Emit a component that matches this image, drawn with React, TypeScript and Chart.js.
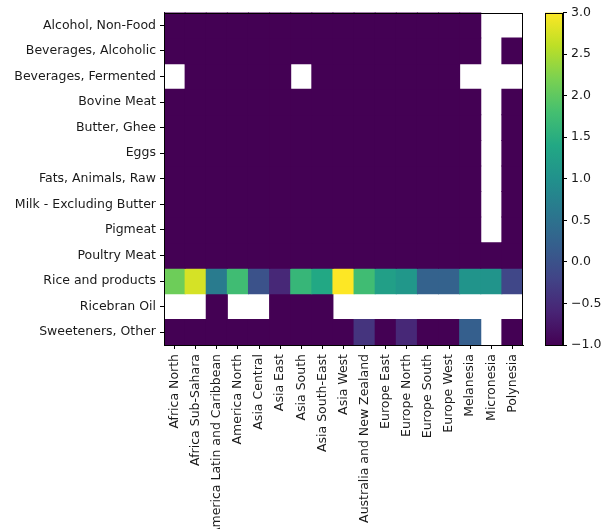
import React, { useEffect, useRef } from "react";
import { Chart, registerables } from "chart.js";
Chart.register(...registerables);

const regions = [
  "Africa North",
  "Africa Sub-Sahara",
  "America Latin and Caribbean",
  "America North",
  "Asia Central",
  "Asia East",
  "Asia South",
  "Asia South-East",
  "Asia West",
  "Australia and New Zealand",
  "Europe East",
  "Europe North",
  "Europe South",
  "Europe West",
  "Melanesia",
  "Micronesia",
  "Polynesia",
];

const products = [
  "Alcohol, Non-Food",
  "Beverages, Alcoholic",
  "Beverages, Fermented",
  "Bovine Meat",
  "Butter, Ghee",
  "Eggs",
  "Fats, Animals, Raw",
  "Milk - Excluding Butter",
  "Pigmeat",
  "Poultry Meat",
  "Rice and products",
  "Ricebran Oil",
  "Sweeteners, Other",
];

const N = null;
const alcoholNonFood = [-1, -1, -1, -1, -1, -1, -1, -1, -1, -1, -1, -1, -1, -1, -1, N, N];
const beveragesAlcoholic = [-1, -1, -1, -1, -1, -1, -1, -1, -1, -1, -1, -1, -1, -1, -1, N, -1];
const beveragesFermented = [N, -1, -1, -1, -1, -1, N, -1, -1, -1, -1, -1, -1, -1, N, N, N];
const bovineMeat = [-1, -1, -1, -1, -1, -1, -1, -1, -1, -1, -1, -1, -1, -1, -1, N, -1];
const butterGhee = [-1, -1, -1, -1, -1, -1, -1, -1, -1, -1, -1, -1, -1, -1, -1, N, -1];
const eggs = [-1, -1, -1, -1, -1, -1, -1, -1, -1, -1, -1, -1, -1, -1, -1, N, -1];
const fatsAnimalsRaw = [-1, -1, -1, -1, -1, -1, -1, -1, -1, -1, -1, -1, -1, -1, -1, N, -1];
const milkExclButter = [-1, -1, -1, -1, -1, -1, -1, -1, -1, -1, -1, -1, -1, -1, -1, N, -1];
const pigmeat = [-1, -1, -1, -1, -1, -1, -1, -1, -1, -1, -1, -1, -1, -1, -1, N, -1];
const poultryMeat = [-1, -1, -1, -1, -1, -1, -1, -1, -1, -1, -1, -1, -1, -1, -1, -1, -1];
const riceAndProducts = [2.1, 2.75, 0.65, 1.75, 0.0, -0.55, 1.65, 1.4, 3.0, 1.75, 1.25, 1.1, 0.25, 0.25, 1.05, 1.05, -0.15];
const ricebranOil = [N, N, -1, N, N, -1, -1, -1, N, N, N, N, N, N, N, N, N];
const sweetenersOther = [-1, -1, -1, -1, -1, -1, -1, -1, -1, -0.4, -1, -0.55, -1, -1, 0.2, N, -1];

const cellValues = [
  alcoholNonFood,
  beveragesAlcoholic,
  beveragesFermented,
  bovineMeat,
  butterGhee,
  eggs,
  fatsAnimalsRaw,
  milkExclButter,
  pigmeat,
  poultryMeat,
  riceAndProducts,
  ricebranOil,
  sweetenersOther,
];

const colorMin = -1;
const colorMax = 3;
const colorbarStep = 0.5;

const VIRIDIS = [
  "#440154", "#482475", "#414487", "#355f8d", "#2a788e", "#21918c",
  "#22a884", "#44bf70", "#7ad151", "#bddf26", "#fde725",
];

function hexToRgb(h: string) {
  return [parseInt(h.slice(1, 3), 16), parseInt(h.slice(3, 5), 16), parseInt(h.slice(5, 7), 16)];
}

function viridis(t: number) {
  const c = Math.max(0, Math.min(1, t)) * (VIRIDIS.length - 1);
  const i = Math.min(VIRIDIS.length - 2, Math.floor(c));
  const f = c - i;
  const a = hexToRgb(VIRIDIS[i]);
  const b = hexToRgb(VIRIDIS[i + 1]);
  const m = a.map((v, k) => Math.round(v + (b[k] - v) * f));
  return `rgb(${m[0]},${m[1]},${m[2]})`;
}

const FONT = { family: "'DejaVu Sans', sans-serif", size: 12.5 };
const TEXT_COLOR = "#1a1a1a";

const framePlugin = {
  id: "frame",
  afterDraw(chart: any) {
    const { ctx, chartArea: a } = chart;
    ctx.save();
    ctx.strokeStyle = "#000";
    ctx.lineWidth = 1;
    ctx.strokeRect(Math.round(a.left) + 0.5, Math.round(a.top) + 0.5, Math.round(a.right - a.left) - 1, Math.round(a.bottom - a.top) - 1);
    ctx.restore();
  },
};

const W = 607;
const H = 529;
const HEAT_W = 540;
const CB_LEFT = 535;

export default function App() {
  const heatRef = useRef<HTMLCanvasElement | null>(null);
  const cbRef = useRef<HTMLCanvasElement | null>(null);

  useEffect(() => {
    const heat = new Chart(heatRef.current as HTMLCanvasElement, {
      type: "bar",
      data: {
        labels: regions,
        datasets: products.map((p, i) => ({
          label: p,
          data: cellValues[i].map((v) => (v == null ? null : [i, i + 1])) as any,
          backgroundColor: cellValues[i].map((v) =>
            v == null ? "rgba(0,0,0,0)" : viridis((v - colorMin) / (colorMax - colorMin))
          ),
          borderWidth: 0,
          inflateAmount: 0.5,
          grouped: false,
          barPercentage: 1,
          categoryPercentage: 1,
        })),
      },
      options: {
        animation: false,
        responsive: false,
        layout: { padding: { top: 12.5, right: HEAT_W - 523, left: 0, bottom: 0 } },
        plugins: { legend: { display: false }, tooltip: { enabled: false } },
        scales: {
          x: {
            type: "category",
            offset: true,
            grid: { offset: false, drawOnChartArea: false, drawTicks: true, tickLength: 4, color: "#000" },
            border: { display: true, color: "#000" },
            ticks: { autoSkip: false, maxRotation: 90, minRotation: 90, padding: 5, color: TEXT_COLOR, font: FONT },
            afterFit: (s: any) => {
              s.height = H - 345;
            },
          },
          y: {
            type: "linear",
            min: 0,
            max: products.length,
            reverse: true,
            afterBuildTicks: (s: any) => {
              s.ticks = products.map((_, i) => ({ value: i + 0.5 }));
            },
            grid: { drawOnChartArea: false, drawTicks: true, tickLength: 4, color: "#000" },
            border: { display: true, color: "#000" },
            ticks: {
              autoSkip: false,
              padding: 4,
              color: TEXT_COLOR,
              font: FONT,
              callback: (v: any) => products[Math.floor(Number(v))],
            },
            afterFit: (s: any) => {
              s.width = 164;
            },
          },
        },
      } as any,
      plugins: [framePlugin],
    });

    const cb = new Chart(cbRef.current as HTMLCanvasElement, {
      type: "bar",
      data: {
        labels: ["colorbar"],
        datasets: [
          {
            data: [[colorMin, colorMax]] as any,
            backgroundColor: (ctx: any) => {
              const a = ctx.chart.chartArea;
              if (!a) return VIRIDIS[0];
              const g = ctx.chart.ctx.createLinearGradient(0, a.bottom, 0, a.top);
              VIRIDIS.forEach((c, i) => g.addColorStop(i / (VIRIDIS.length - 1), c));
              return g;
            },
            borderWidth: 0,
            barPercentage: 1,
            categoryPercentage: 1,
          },
        ],
      },
      options: {
        animation: false,
        responsive: false,
        layout: { padding: { top: 12.5, bottom: H - 345, left: 545 - CB_LEFT, right: 0 } },
        plugins: { legend: { display: false }, tooltip: { enabled: false } },
        scales: {
          x: { display: false },
          y: {
            position: "right",
            min: colorMin,
            max: colorMax,
            grid: { drawOnChartArea: false, drawTicks: true, tickLength: 4, color: "#000" },
            border: { display: true, color: "#000" },
            ticks: {
              stepSize: colorbarStep,
              padding: 4,
              color: TEXT_COLOR,
              font: FONT,
              callback: (v: any) => Number(v).toFixed(1).replace("-", "\u2212"),
            },
            afterFit: (s: any) => {
              s.width = W - 563;
            },
          },
        },
      } as any,
      plugins: [framePlugin],
    });

    return () => {
      heat.destroy();
      cb.destroy();
    };
  }, []);

  return (
    <div style={{ position: "fixed", left: 0, top: 0, width: W, height: H, background: "#fff" }}>
      <canvas
        ref={heatRef}
        width={HEAT_W}
        height={H}
        style={{ position: "absolute", left: 0, top: 0, width: HEAT_W, height: H }}
      />
      <canvas
        ref={cbRef}
        width={W - CB_LEFT}
        height={H}
        style={{ position: "absolute", left: CB_LEFT, top: 0, width: W - CB_LEFT, height: H }}
      />
    </div>
  );
}
